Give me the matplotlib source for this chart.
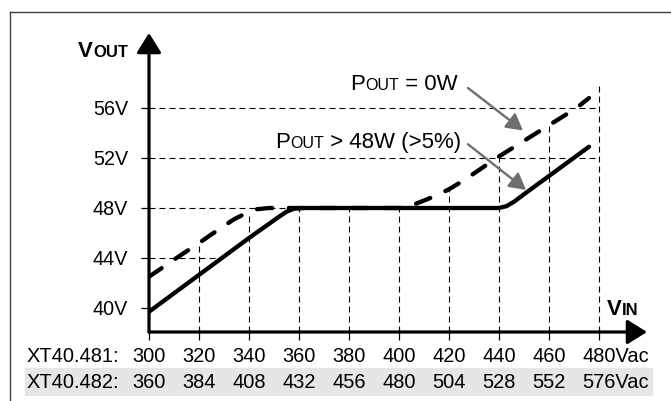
import matplotlib
matplotlib.use('Agg')
import matplotlib.pyplot as plt
from matplotlib.transforms import ScaledTranslation, blended_transform_factory
from matplotlib.lines import Line2D
from matplotlib.patches import Rectangle
import numpy as np

plt.rcParams['font.family'] = ['Liberation Sans', 'DejaVu Sans']
plt.rcParams['lines.scale_dashes'] = False

# output voltage vs input voltage (XT40.481 scale on x)
vin_no_load = [300, 311, 320, 328, 334, 339, 343, 348, 400, 405, 410, 415, 420, 425, 431, 439, 455, 471, 476]
vout_no_load = [42.5, 44.0, 45.2, 46.3, 47.1, 47.6, 47.9, 48.0, 48.0, 48.2, 48.6, 49.0, 49.5, 50.1, 50.9, 52.0, 54.0, 56.0, 56.8]
vin_load = [300, 340, 352, 355, 358, 362, 440, 443, 446, 450, 476]
vout_load = [39.7, 45.6, 47.3, 47.7, 47.95, 48.0, 48.0, 48.15, 48.5, 49.1, 52.9]

x_ticks = [300, 320, 340, 360, 380, 400, 420, 440, 460, 480]
x_labels_481 = ['300', '320', '340', '360', '380', '400', '420', '440', '460', '480']
x_labels_482 = ['360', '384', '408', '432', '456', '480', '504', '528', '552', '576']
y_ticks = [40, 44, 48, 52, 56]
y_labels = ['40V', '44V', '48V', '52V', '56V']

W, H = 671, 401
fig = plt.figure(figsize=(W / 100, H / 100), dpi=100)
renderer = fig.canvas.get_renderer()


def fx(px):
    return px / W


def fy(py):
    return 1 - py / H


ax = fig.add_axes([fx(149), fy(332), (647 - 149) / W, (332 - 33) / H])
ax.set_xlim(300, 499.2)
ax.set_ylim(38.08, 62.0)
for s in ax.spines.values():
    s.set_visible(False)

# ticks
ax.set_yticks(y_ticks)
ax.set_yticklabels(y_labels, fontsize=14.2)
ax.set_xticks(x_ticks)
ax.set_xticklabels([])
ax.tick_params(axis='y', length=5.8, width=0.9, pad=9.2)
ax.tick_params(axis='x', length=5.8, width=0.9)

# grid lines (dashed)
grid_kw = dict(color='black', lw=0.8, dashes=(4.3, 2.9), zorder=1, clip_on=False)
ax.plot([300, 480], [56, 56], **grid_kw)
ax.plot([300, 480], [52, 52], **grid_kw)
ax.plot([300, 360], [48, 48], **grid_kw)
ax.plot([300, 329], [44, 44], **grid_kw)
tops = np.interp(x_ticks, vin_no_load, vout_no_load)
tops[-1] = 58.0
for xv, top in zip(x_ticks[1:], tops[1:]):
    ax.plot([xv, xv], [38.08, top], **grid_kw)

# curves
ax.plot(vin_no_load, vout_no_load, color='black', lw=3.1, dashes=(11, 12),
        dash_capstyle='round', solid_joinstyle='round', zorder=3)
ax.plot(vin_load, vout_load, color='black', lw=3.1, solid_capstyle='round',
        solid_joinstyle='round', zorder=3)

# axis arrows
axis_arrow = dict(arrowstyle='-|>,head_length=0.4,head_width=0.25', lw=2.3, color='black',
                  shrinkA=0, shrinkB=0, mutation_scale=30)
ax.annotate('', xy=(300, 62.0), xytext=(300, 38.08), arrowprops=axis_arrow,
            annotation_clip=False, zorder=5)
ax.annotate('', xy=(499.2, 38.08), xytext=(300, 38.08), arrowprops=axis_arrow,
            annotation_clip=False, zorder=5)

# pointer arrows
ptr = dict(arrowstyle='-|>,head_length=0.45,head_width=0.25', lw=1.7, color='#6e6e6e',
           shrinkA=0, shrinkB=0, mutation_scale=22)
ax.annotate('', xy=(449.6, 54.2), xytext=(427.6, 57.6), arrowprops=ptr, zorder=6)
ax.annotate('', xy=(450.8, 49.45), xytext=(427.6, 53.1), arrowprops=ptr, zorder=6)

# x label rows
fig.add_artist(Rectangle((fx(25), fy(395)), (652 - 25) / W, 27 / H,
                         transform=fig.transFigure, color='#e6e6e6', zorder=0))
trans = blended_transform_factory(ax.transData, fig.transFigure)
fs = 14.4
fig.text(fx(26.7), fy(362), 'XT40.481:', fontsize=fs, va='baseline', ha='left')
fig.text(fx(26.7), fy(388.3), 'XT40.482:', fontsize=fs, va='baseline', ha='left')
for i, xv in enumerate(x_ticks):
    l1 = x_labels_481[i]
    l2 = x_labels_482[i]
    if i == len(x_ticks) - 1:
        # last label carries the unit, number kept centred on the tick
        shift = ScaledTranslation(-12.0 / 72, 0, fig.dpi_scale_trans)
        ax.text(xv, fy(362), l1 + 'Vac', fontsize=fs, va='baseline', ha='left', transform=trans + shift)
        ax.text(xv, fy(388.3), l2 + 'Vac', fontsize=fs, va='baseline', ha='left', transform=trans + shift)
    else:
        ax.text(xv, fy(362), l1, fontsize=fs, va='baseline', ha='center', transform=trans)
        ax.text(xv, fy(388.3), l2, fontsize=fs, va='baseline', ha='center', transform=trans)


def caps_text(px, py, parts, weight='normal'):
    dx = 0.0
    for s, size in parts:
        t = fig.text(fx(px), fy(py), s, fontsize=size, fontweight=weight, ha='left', va='baseline',
                     transform=fig.transFigure + ScaledTranslation(dx, 0, fig.dpi_scale_trans))
        dx += t.get_window_extent(renderer).width / fig.dpi


caps_text(78.3, 56.7, [('V', 16), ('OUT', 12)], weight='bold')
caps_text(606.7, 315, [('V', 16), ('IN', 12)], weight='bold')
caps_text(350, 90, [('P', 16), ('OUT', 11.5), (' = 0W', 16)])
caps_text(275, 148, [('P', 16), ('OUT', 11.5), (' > 48W (>5%)', 16)])

# frame (top and left only)
fig.add_artist(Line2D([fx(10), 1], [fy(12), fy(12)], transform=fig.transFigure, color='#404040', lw=1))
fig.add_artist(Line2D([fx(10), fx(10)], [0, fy(12)], transform=fig.transFigure, color='#404040', lw=1))

fig.savefig('out.png', dpi=100)
